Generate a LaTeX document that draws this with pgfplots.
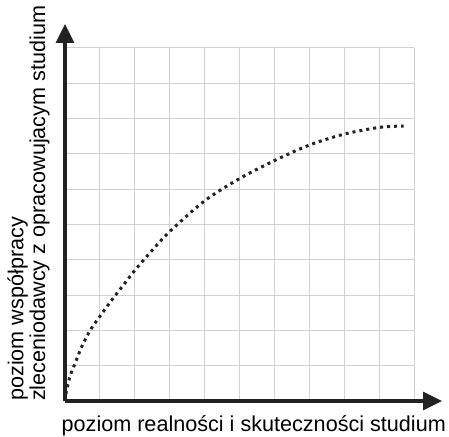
\documentclass[border=0pt]{standalone}
\usepackage{fontspec}
\setmainfont{Liberation Sans}
\usepackage{pgfplots}
\pgfplotsset{compat=1.18}
\usetikzlibrary{arrows.meta}
\definecolor{axisc}{HTML}{222222}
\definecolor{gridc}{HTML}{D0D0D0}
\begin{document}
\begin{tikzpicture}
\useasboundingbox (-65bp,-36bp) rectangle (384bp,401bp);
\begin{axis}[
  at={(0,0)}, anchor=south west,
  scale only axis, width=349bp, height=353bp,
  xmin=0, xmax=10, ymin=0, ymax=10,
  axis lines=left,
  xtick={0,...,10}, ytick={0,...,10},
  xticklabels=\empty, yticklabels=\empty,
  major tick length=0pt,
  grid=major,
  grid style={gridc, line width=1bp},
  axis line style={axisc, line width=3bp},
  x axis line style={-{Triangle[length=19bp,width=18bp]}, shorten >=-28bp},
  y axis line style={-{Triangle[length=19bp,width=18bp]}, shorten >=-24bp},
  clip=false,
]
\addplot[axisc, line width=3bp, dash pattern=on 3bp off 4bp, smooth, tension=0.5] coordinates {
(0,0) (0.03,0.22) (0.14,0.69) (0.29,1.07) (0.48,1.54) (0.72,2.00) (1.0,2.40)
(1.34,2.86) (1.67,3.28) (2.0,3.70) (2.5,4.27) (3.0,4.80) (4.0,5.67) (5.0,6.30)
(6.0,6.81) (7.0,7.25) (8.0,7.56) (9.0,7.75) (9.7,7.79)
};
\end{axis}
\node[anchor=base west, inner sep=0pt, font=\fontsize{21.6bp}{22bp}\selectfont] at (-3.5bp,-30bp) {poziom realności i skuteczności studium};
\node[anchor=base west, inner sep=0pt, rotate=90, font=\fontsize{21.6bp}{22bp}\selectfont] at (-41.7bp,0bp) {poziom współpracy};
\node[anchor=base west, inner sep=0pt, rotate=90, font=\fontsize{21.6bp}{22bp}\selectfont] at (-20bp,0bp) {zleceniodawcy z opracowujacym studium};
\end{tikzpicture}
\end{document}
